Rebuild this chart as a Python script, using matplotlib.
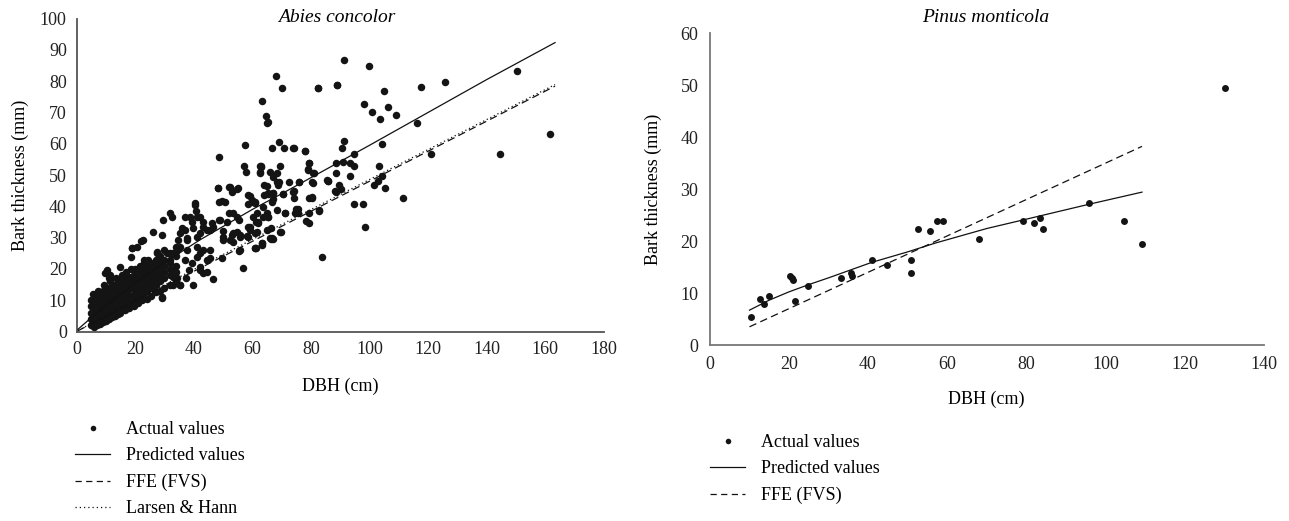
import numpy as np
import matplotlib
matplotlib.use("Agg")
import matplotlib.pyplot as plt
from matplotlib.lines import Line2D

plt.rcParams['font.family'] = ['Liberation Serif', 'DejaVu Serif']
plt.rcParams['font.size'] = 13

abies_core = [
    (5, 2), (5, 4), (5, 6), (5, 8), (5, 10), (5.5, 12),
    (6, 1.5), (6, 3), (6, 5), (6, 7), (6, 9), (6, 11),
    (7, 2), (7, 4), (7, 6), (7, 8), (7, 10), (7, 12), (7.5, 13),
    (8, 2.5), (8, 4.5), (8, 6.5), (8, 8.5), (8, 10.5), (8, 12.5),
    (9, 3), (9, 5), (9, 7), (9, 9), (9, 11), (9, 13), (9.5, 15),
    (10, 3.5), (10, 5.5), (10, 7.5), (10, 9.5), (10, 11.5), (10, 13.5),
    (11, 4), (11, 6), (11, 8), (11, 10), (11, 12), (11, 14), (11.5, 16),
    (12, 4.5), (12, 6.5), (12, 8.5), (12, 10.5), (12, 12.5), (12, 14.5),
    (13, 5), (13, 7), (13, 9), (13, 11), (13, 13), (13, 15), (13.5, 17),
    (14, 5.5), (14, 7.5), (14, 9.5), (14, 11.5), (14, 13.5), (14, 15.5),
    (15, 6), (15, 8), (15, 10), (15, 12), (15, 14), (15, 16), (15.5, 18),
    (16.5, 7), (16.5, 9), (16.5, 11), (16.5, 13), (16.5, 15), (16.5, 17), (17, 19),
    (18, 7.5), (18, 9.5), (18, 11.5), (18, 13.5), (18, 15.5), (18, 17.5), (18.5, 20),
    (19.5, 8), (19.5, 10), (19.5, 12), (19.5, 14), (19.5, 16), (19.5, 18), (20, 20),
    (21, 9), (21, 11), (21, 13), (21, 15), (21, 17), (21, 19), (21.5, 21),
    (22.5, 10), (22.5, 12), (22.5, 14), (22.5, 16), (22.5, 18), (22.5, 20), (23, 22),
    (24, 10.5), (24, 13), (24, 15), (24, 17), (24, 19), (24, 21), (24.5, 23),
    (25.5, 11.5), (25.5, 14), (25.5, 16), (25.5, 18), (25.5, 20), (25.5, 22),
    (27, 12.5), (27, 15), (27, 17), (27, 19), (27, 21), (27, 23), (27.5, 25),
    (28.5, 13), (28.5, 16), (28.5, 18), (28.5, 20), (28.5, 22), (28.5, 24),
    (30, 14), (30, 17), (30, 19), (30, 21), (30, 23), (30, 26),
    (32, 15), (32, 18), (32, 20), (32, 22), (32, 25),
    (34, 16), (34, 19), (34, 21), (34, 24), (34, 27),
]

abies_spread = [
    (91.4, 86.7), (99.9, 84.7), (150.2, 83.2), (161.6, 63.2), (144.5, 56.8),
    (82.4, 77.7), (88.9, 78.7), (117.5, 78.2), (125.8, 79.7), (105, 76.8),
    (98.1, 72.7), (106.4, 71.7), (100.9, 70.2), (108.9, 69.2), (103.7, 67.8),
    (116.3, 66.7), (104.3, 59.8), (91.4, 60.8), (90.5, 58.7), (78, 57.8),
    (94.7, 56.7), (121.1, 56.7), (79.3, 53.8), (88.5, 53.7), (91.1, 54.2),
    (93.3, 53.7), (94.7, 52.8), (103.1, 52.8), (79, 51.7), (81, 50.7),
    (88.5, 50.6), (93.4, 49.7), (104.3, 49.7), (80.5, 47.8), (85.8, 48.2),
    (101.5, 46.8), (102.8, 48), (105.4, 45.8), (88.5, 44.7), (90.2, 45.6),
    (80.5, 42.7), (111.3, 42.8), (94.7, 40.7), (97.7, 40.7), (79.4, 37.8),
    (82.8, 38.4), (78.2, 35.3), (98.5, 33.3), (83.9, 23.7),
    (68.1, 81.6), (70.2, 77.7), (82.3, 77.7), (63.3, 73.7), (64.6, 68.8),
    (65.1, 66.6), (57.5, 59.7), (69, 60.6), (66.8, 58.7), (70.7, 58.7),
    (74.1, 58.7), (48.7, 55.8), (57.3, 53), (58, 50.9), (62.6, 50.9),
    (66, 50.9), (63, 53), (69.5, 53), (79.2, 53.7), (67, 49.4), (64, 46.7),
    (69.2, 47.8), (68.9, 46.7), (72.4, 47.8), (75.9, 47.8), (85.5, 48.3),
    (48.3, 45.8), (51.9, 46.1), (54.9, 45.4), (58.6, 43.7), (60.3, 41.5),
    (61, 41), (65.4, 44.2), (67, 44.2), (67.1, 42.2), (70.6, 44), (74.2, 44.9),
    (79.5, 42.7), (74.3, 42.6), (71.3, 37.8), (75.5, 39.2), (74.4, 37.8),
    (68.3, 38.8), (65.4, 36.7), (64.9, 37.8), (61.5, 37.8), (58.6, 40.7),
    (82.8, 38.8), (66.3, 33.2), (69.8, 31.9), (67, 29.6), (66.2, 29.6),
    (63.3, 28.4), (61, 26.6), (56.9, 20.2), (55.6, 25.8), (61.4, 34.9),
    (58.6, 33.3), (50.1, 30.3), (52.4, 29.2), (53.5, 31.4), (55.8, 30.8),
    (58.3, 30.5), (51.3, 34.9), (53.5, 37.8), (55.4, 35.6), (51.9, 37.8),
    (50.1, 32), (48.6, 35.6), (46.7, 33.5), (44.4, 32.4), (48.7, 41.5),
    (50.7, 41.5), (46.7, 16.9), (43.3, 18.6), (39.9, 14.8), (42.2, 25),
    (44.4, 22.8), (45.6, 26), (42.2, 19.6), (40.6, 40.4), (40.8, 38.6),
    (38.7, 36.7), (39.3, 34.9), (42.2, 36.7), (43.3, 34.9), (37, 32.4),
    (35.3, 31.4), (37.6, 29.2), (35.3, 27.1), (33, 25), (30.8, 25),
    (31.9, 37.8), (29.6, 35.6), (26.2, 31.9), (22.8, 29.2), (20.5, 27.1),
    (18.8, 26.6), (10.3, 19.6), (11.4, 18), (14.8, 20.7), (29.1, 11.1),
    (33, 14.9), (35.3, 14.8), (37.4, 17), (38.3, 19.6),
    (62.6, 52.9), (62.6, 50.5), (68.3, 50.5), (48.2, 45.8), (52.4, 46.3),
    (53.2, 44.7), (55, 45.8), (49.6, 41.8), (59.2, 43.3), (59.8, 42),
    (64.9, 46.5), (67.2, 44.2), (68.3, 47.9), (64.1, 43.6), (40.4, 41),
    (41, 36.7), (54.7, 36.7), (49, 35.6), (46.1, 34.6), (43.3, 33.5),
    (37, 36.7), (35.9, 33), (39.9, 33), (42.2, 31.4), (45.6, 32.4),
    (32.5, 36.7), (59.2, 33.5), (62, 34.6), (63.5, 36.7), (64.9, 32.4),
    (61.5, 31.9), (53, 30.8), (54.7, 31.9), (55.8, 30.3), (50.1, 29.2),
    (53.5, 28.7), (58.6, 30.1), (66, 29.8), (63.2, 27.6), (60.9, 26.6),
    (55.8, 26), (49.6, 23.4), (44.4, 19.1), (35.3, 14.9), (34.2, 17),
    (34.2, 26), (37.6, 26), (41, 27.1), (43.3, 26), (45.6, 23.4), (41, 23.9),
    (37, 22.8), (39.3, 21.8), (42.2, 20.7), (31.9, 22.8), (33, 19.6),
    (33, 17.5), (41, 30.3), (37.6, 29.8), (34.7, 29.2),
    (89, 78.8), (65.3, 66.8), (74, 58.7), (77.9, 57.8), (62.9, 52.7),
    (79.1, 51.8), (80.8, 50.5), (76, 47.7), (85.9, 48.2), (88.2, 45),
    (89.6, 46.7), (80.6, 47.5), (80.3, 42.9), (63.8, 39.9), (65.3, 36.5),
    (71.2, 38), (74.8, 39.1), (75.7, 38), (79.4, 34.8), (60.3, 36.7),
    (62, 35.1), (60.9, 31.4), (59.2, 32.4), (63.2, 28.2), (61.3, 26.8),
    (69.4, 31.9), (66.7, 29.8), (65.5, 43.9), (70.6, 43.9), (74, 44.7),
    (61, 41.5), (66.8, 41.5),
    (22, 28.9), (18.9, 26.8), (18.7, 23.9), (22.9, 22.8), (9.8, 18.6),
    (11, 17), (29.2, 10.8), (27.5, 25.5), (29.2, 30.8),
]

# model curves for Abies
abies_pred_x = [0.5, 5, 10, 20, 30, 42, 60, 70, 86.5, 100, 120, 140, 163.3]
abies_pred_y = [0.7, 4.4, 8.3, 15.5, 22, 29.2, 39, 44, 52.5, 59.5, 70, 80.5, 92.3]
abies_ffe_x = [0.5, 163.3]
abies_ffe_y = [0.24, 78.4]
abies_lh_x = [0.5, 40, 163.3]
abies_lh_y = [0.3, 19.8, 78.9]

# ---- Pinus monticola
pinus_dbh = [10.5, 12.75, 13.8, 14.9, 20.2, 20.8, 21.1, 21.6, 24.8, 33.1,
             35.6, 36, 41, 44.7, 50.8, 50.8, 52.7, 55.7, 57.4, 58.9,
             68.1, 79.2, 82, 83.5, 84.2, 95.9, 104.7, 109.2, 130.2]
pinus_bark = [5.4, 8.85, 7.9, 9.4, 13.3, 12.9, 12.5, 8.4, 11.4, 12.9,
              13.8, 13.3, 16.4, 15.4, 16.4, 13.9, 22.4, 21.9, 23.9, 23.9,
              20.4, 23.9, 23.5, 24.5, 22.4, 27.4, 23.9, 19.4, 49.5]
pinus_pred_x = [10.1, 15, 20, 25, 30, 41, 50, 57, 70, 80, 96, 109.2]
pinus_pred_y = [6.7, 8.6, 10.2, 11.6, 12.9, 15.9, 17.9, 19.6, 22.4, 24.2, 27.1, 29.4]
pinus_ffe_x = [10.1, 109.2]
pinus_ffe_y = [3.5, 38.2]

W, H = 1289, 521
fig = plt.figure(figsize=(W / 100, H / 100), dpi=100)

dot_col = '#141414'
axis_col = '#555555'
dash = (6, 3.5)
dots = (1, 2.2)


def style_axes(ax, pad):
    for s in ['top', 'right']:
        ax.spines[s].set_visible(False)
    for s in ['left', 'bottom']:
        ax.spines[s].set_color(axis_col)
        ax.spines[s].set_linewidth(1.3)
    ax.tick_params(length=0, pad=pad, labelsize=13, colors='#222222')


# ---- left panel
ax1 = fig.add_axes([76.5 / W, 1 - 331.5 / H, (604 - 76.5) / W, (331.5 - 18.5) / H])
pts = np.array(abies_core + abies_spread)
ax1.plot(pts[:, 0], pts[:, 1], 'o', ms=5.4, color=dot_col, mec='none', zorder=2)
ax1.plot(abies_pred_x, abies_pred_y, '-', color='#111111', lw=0.9, zorder=3)
ax1.plot(abies_ffe_x, abies_ffe_y, color='#111111', lw=0.9, dashes=dash, zorder=3)
ax1.plot(abies_lh_x, abies_lh_y, color='#111111', lw=0.9, dashes=dots, zorder=3)
ax1.set_xlim(0, 180)
ax1.set_ylim(0, 100)
ax1.set_xticks(range(0, 181, 20))
ax1.set_yticks(range(0, 101, 10))
style_axes(ax1, 7)
ax1.set_xlabel('DBH (cm)', fontsize=13)
ax1.set_ylabel('Bark thickness (mm)', fontsize=13)
ax1.xaxis.set_label_coords(0.5, -0.148)
ax1.yaxis.set_label_coords(-0.09, 0.5)

# ---- right panel
ax2 = fig.add_axes([709.5 / W, 1 - 345 / H, (1264 - 709.5) / W, (345 - 33) / H])
ax2.plot(pinus_dbh, pinus_bark, 'o', ms=5.0, color=dot_col, mec='none', zorder=2)
ax2.plot(pinus_pred_x, pinus_pred_y, '-', color='#111111', lw=0.9, zorder=3)
ax2.plot(pinus_ffe_x, pinus_ffe_y, color='#111111', lw=0.9, dashes=dash, zorder=3)
ax2.set_xlim(0, 140)
ax2.set_ylim(0, 60)
ax2.set_xticks(range(0, 141, 20))
ax2.set_yticks(range(0, 61, 10))
style_axes(ax2, 8)
ax2.spines['left'].set_color('#777777')
ax2.spines['bottom'].set_color('#777777')
ax2.set_xlabel('DBH (cm)', fontsize=13)
ax2.set_ylabel('Bark thickness (mm)', fontsize=13)
ax2.xaxis.set_label_coords(0.5, -0.147)
ax2.yaxis.set_label_coords(-0.086, 0.5)

# panel titles placed in figure coordinates
fig.text(337 / W, 1 - 17 / H, 'Abies concolor', fontsize=14, style='italic',
         ha='center', va='center')
fig.text(986 / W, 1 - 18 / H, 'Pinus monticola', fontsize=14, style='italic',
         ha='center', va='center')


# ---- legends
def handles(with_lh):
    h = [Line2D([], [], ls='none', marker='o', ms=4.0, color=dot_col, mec='none'),
         Line2D([], [], ls='-', color='#111111', lw=0.9),
         Line2D([], [], color='#111111', lw=0.9, dashes=(5, 3.5))]
    lab = ['Actual values', 'Predicted values', 'FFE (FVS)']
    if with_lh:
        h.append(Line2D([], [], color='#111111', lw=0.9, dashes=(1, 2.4)))
        lab.append('Larsen & Hann')
    return h, lab


h, lab = handles(True)
fig.legend(h, lab, loc='upper left', bbox_to_anchor=(75 / W, 1 - 421 / H),
           frameon=False, borderpad=0, borderaxespad=0, handlelength=1.95,
           handletextpad=0.85, labelspacing=0.52, fontsize=13)
h, lab = handles(False)
fig.legend(h, lab, loc='upper left', bbox_to_anchor=(710 / W, 1 - 434 / H),
           frameon=False, borderpad=0, borderaxespad=0, handlelength=1.95,
           handletextpad=0.85, labelspacing=0.52, fontsize=13)

fig.savefig('out.png', dpi=100)
